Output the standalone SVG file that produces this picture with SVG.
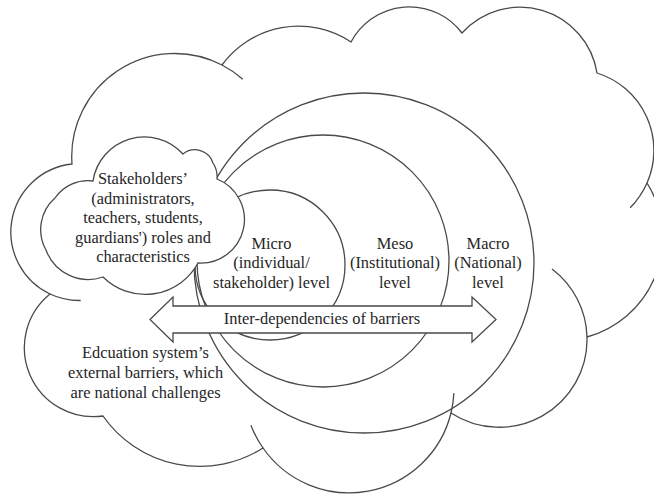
<svg xmlns="http://www.w3.org/2000/svg" width="654" height="494" viewBox="0 0 654 494">
<style>
.ln{fill:none;stroke:#4a4a4a;stroke-width:1.3}
.wf{fill:#ffffff;stroke:#4a4a4a;stroke-width:1.3}
text{font-family:"Liberation Serif","Times New Roman",serif;font-size:16.4px;fill:#262626;text-anchor:middle}
</style>
<rect width="654" height="494" fill="#ffffff"/>
<g id="external-cloud">
<path class="ln" d="M72,164 A103,103 0 0 1 222,65 A95,95 0 0 1 351,42 A66,66 0 0 1 462,33 A78,78 0 0 1 597,73 A81,81 0 0 1 647,183 A103,103 0 0 1 587,337 A88,88 0 0 1 451,413 A105,105 0 0 1 263,448 A118,118 0 0 1 103,416 A69,69 0 0 1 50,294 A68.5,68.5 0 0 1 72,164 Z"/>
<path class="ln" d="M222,65 A103,103 0 0 1 242.8,79.2 M647,183 A81,81 0 0 1 630.2,207.7 M552,269 A88,88 0 0 1 587,337 M453.9,393.1 A105,105 0 0 1 451,413 M263,448 A105,105 0 0 1 250.9,425.3 M80.7,300.5 A68.5,68.5 0 0 1 50,294"/>
<text x="145.5" y="358">Edcuation system’s</text>
<text x="145.5" y="378">external barriers, which</text>
<text x="145.5" y="398">are national challenges</text>
</g>
<g id="macro">
<circle class="ln" cx="364" cy="263" r="170"/>
<text x="488" y="248.8">Macro</text>
<text x="488" y="268.4">(National)</text>
<text x="488" y="288">level</text>
</g>
<g id="meso">
<circle class="ln" cx="323" cy="261" r="126"/>
<text x="395" y="248.8">Meso</text>
<text x="395" y="268.4">(Institutional)</text>
<text x="395" y="288">level</text>
</g>
<g id="micro">
<circle class="ln" cx="270" cy="265" r="75"/>
<text x="271.5" y="248.8">Micro</text>
<text x="271.5" y="268.4">(individual/</text>
<text x="271.5" y="288">stakeholder) level</text>
</g>
<g id="stakeholders">
<path class="wf" d="M93,181 A52,52 0 0 1 183,154 A19,19 0 0 1 213,163 A25,25 0 0 1 217,179 A43.6,43.6 0 0 1 198,263 A60,60 0 0 1 103,277 A45,45 0 0 1 46,250 A42,42 0 0 1 55,198 A40,40 0 0 1 93,181 Z"/>
<text x="143" y="184">Stakeholders’</text>
<text x="143" y="203.6">(administrators,</text>
<text x="143" y="223.2">teachers, students,</text>
<text x="143" y="242.8">guardians') roles and</text>
<text x="143" y="262.4">characteristics</text>
</g>
<g id="connectors">
<path class="wf" d="M150,319.5 L173,297 L173,306 L472,306 L472,297 L496,319.5 L472,342 L472,333 L173,333 L173,342 Z"/>
<text x="322" y="324">Inter-dependencies of barriers</text>
</g>
</svg>
